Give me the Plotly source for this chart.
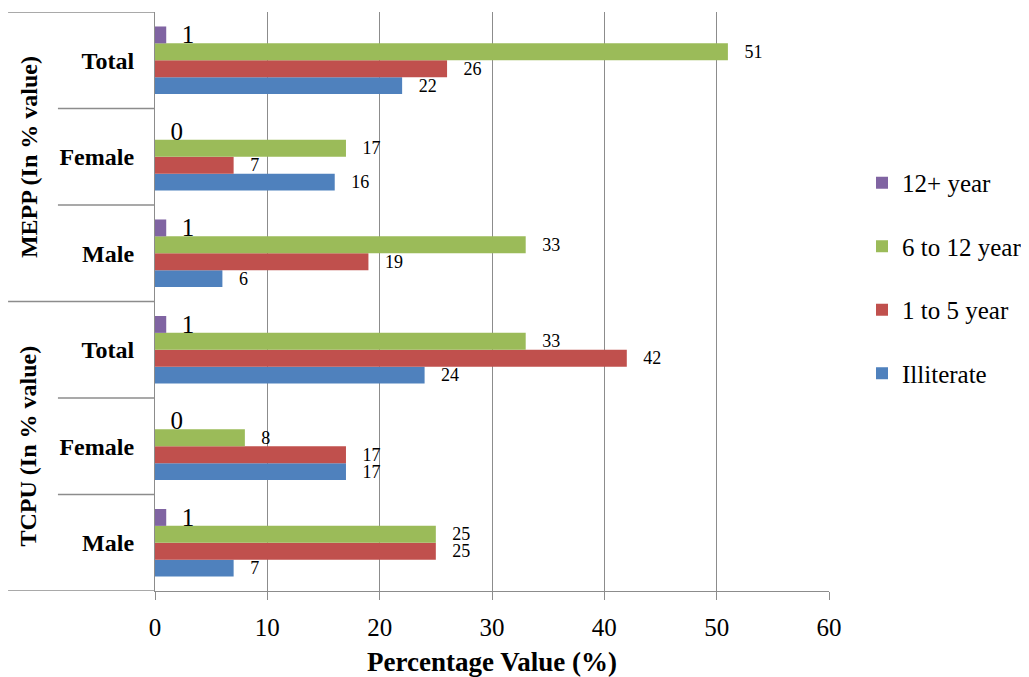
import plotly.graph_objects as go

groups = ["TCPU (In % value)", "MEPP (In % value)"]
categories = ["Male", "Female", "Total", "Male", "Female", "Total"]
series_names = ["Illiterate", "1 to 5 year", "6 to 12 year", "12+ year"]
illiterate = [7, 17, 24, 6, 16, 22]
one_to_five = [25, 17, 42, 19, 7, 26]
six_to_twelve = [25, 8, 33, 33, 17, 51]
twelve_plus = [1, 0, 1, 1, 0, 1]
x_ticks = [0, 10, 20, 30, 40, 50, 60]

colors = ["#4F81BD", "#C0504D", "#9BBB59", "#8064A2"]
values = [illiterate, one_to_five, six_to_twelve, twelve_plus]
label_sizes = [18, 18, 18, 25]
label_pads = ["\u00a0\u00a0\u00a0", "\u00a0\u00a0\u00a0", "\u00a0\u00a0\u00a0", "\u00a0\u00a0"]
legend_ranks = [4, 3, 2, 1]
FONT = "Liberation Serif, Times New Roman, serif"

ypos = list(range(len(categories)))

fig = go.Figure()
for name, vals, col, ls, pad, rk in zip(series_names, values, colors, label_sizes, label_pads, legend_ranks):
    fig.add_trace(go.Bar(
        y=ypos, x=vals, orientation="h", name=name,
        marker=dict(color=col, line=dict(width=0)),
        text=[str(v) for v in vals],
        texttemplate=pad + "%{text}",
        textposition="outside", constraintext="none", cliponaxis=False,
        textfont=dict(family=FONT, size=ls, color="black"),
        legendgroup=name, legendrank=rk,
    ))

shapes = []
for b in [-0.5, 2.5, 5.5]:
    shapes.append(dict(type="line", xref="paper", yref="y", x0=-0.218, x1=0,
                       y0=b, y1=b, line=dict(color="#8c8c8c", width=1.3)))
for b in [0.5, 1.5, 3.5, 4.5]:
    shapes.append(dict(type="line", xref="paper", yref="y", x0=-0.144, x1=0,
                       y0=b, y1=b, line=dict(color="#8c8c8c", width=1.3)))

annotations = []
for gi, g in enumerate(groups):
    annotations.append(dict(text="<b>" + g + "</b>", xref="paper", yref="y",
                            x=-0.188, y=gi * 3 + 1, textangle=-90, showarrow=False,
                            font=dict(family=FONT, size=24, color="black"),
                            xanchor="center", yanchor="middle"))

fig.update_layout(
    width=1021, height=669,
    margin=dict(l=147, r=200, t=4, b=86, autoexpand=False),
    paper_bgcolor="white", plot_bgcolor="white",
    barmode="group", bargap=0.30, bargroupgap=0,
    font=dict(family=FONT, color="black"),
    showlegend=True,
    legend=dict(x=1.049, y=0.5406, xanchor="left", yanchor="middle",
                traceorder="grouped", tracegroupgap=28,
                font=dict(family=FONT, size=25, color="black"),
                itemwidth=30),
    shapes=shapes, annotations=annotations,
    xaxis=dict(range=[0, 60], tickvals=x_ticks, showgrid=True, gridcolor="#8c8c8c",
               gridwidth=1.3, zeroline=False, showline=True, linecolor="#8c8c8c",
               linewidth=1.3, ticks="outside", ticklen=8, tickcolor="#8c8c8c",
               tickwidth=1.3, tickfont=dict(family=FONT, size=25, color="black"),
               automargin=False, ticklabelstandoff=6,
               title=dict(text="<b>Percentage Value (%)</b>", standoff=12,
                          font=dict(family=FONT, size=27, color="black"))),
    yaxis=dict(range=[-0.5, 5.5], tickvals=ypos,
               ticktext=["<b>" + c + "</b>" for c in categories],
               showgrid=False, zeroline=False, showline=True, linecolor="#8c8c8c",
               linewidth=1.3, ticks="", ticklabelstandoff=15, automargin=False,
               tickfont=dict(family=FONT, size=24, color="black")),
)

fig.write_html("out.html")
